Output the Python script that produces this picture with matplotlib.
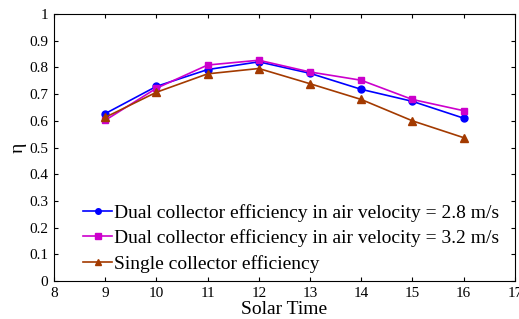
import matplotlib
matplotlib.use("Agg")
import matplotlib.pyplot as plt

# Data
solar_time = [9, 10, 11, 12, 13, 14, 15, 16]
eff_dual_28 = [0.627, 0.729, 0.792, 0.821, 0.778, 0.718, 0.673, 0.610]
eff_dual_32 = [0.602, 0.722, 0.809, 0.827, 0.783, 0.752, 0.680, 0.638]
eff_single = [0.613, 0.707, 0.776, 0.796, 0.739, 0.680, 0.600, 0.537]

plt.rcParams['font.family'] = ['Liberation Serif', 'DejaVu Serif']

fig = plt.figure(figsize=(5.19, 3.19), dpi=100)
ax = fig.add_axes([0.104, 0.119, 0.888, 0.837])

ax.plot(solar_time, eff_dual_28, color='#0000ff', marker='o', markersize=5,
        lw=1.2, label='Dual collector efficiency in air velocity = 2.8 m/s')
ax.plot(solar_time, eff_dual_32, color='#cc00cc', marker='s', markersize=5,
        lw=1.2, label='Dual collector efficiency in air velocity = 3.2 m/s')
ax.plot(solar_time, eff_single, color='#a33a00', marker='^', markersize=6,
        lw=1.2, label='Single collector efficiency')

ax.set_xlim(8, 17)
ax.set_ylim(0, 1)
ax.set_xticks(range(8, 18))
ax.set_yticks([i / 10 for i in range(11)])
ax.set_yticklabels(['0'] + [f'{i/10:.1f}' for i in range(1, 10)] + ['1'])
ax.tick_params(direction='in', top=True, right=True, labelsize=11, length=3, pad=4)
ax.set_xlabel('Solar Time', fontsize=14, labelpad=1)
ax.set_ylabel('η', fontsize=14, labelpad=2)

ax.legend(loc='lower left', bbox_to_anchor=(0.025, -0.035), frameon=False,
          fontsize=14, handlelength=1.5, handletextpad=0.1,
          labelspacing=0.4, markerscale=0.8)

fig.savefig('out.png', dpi=100)
